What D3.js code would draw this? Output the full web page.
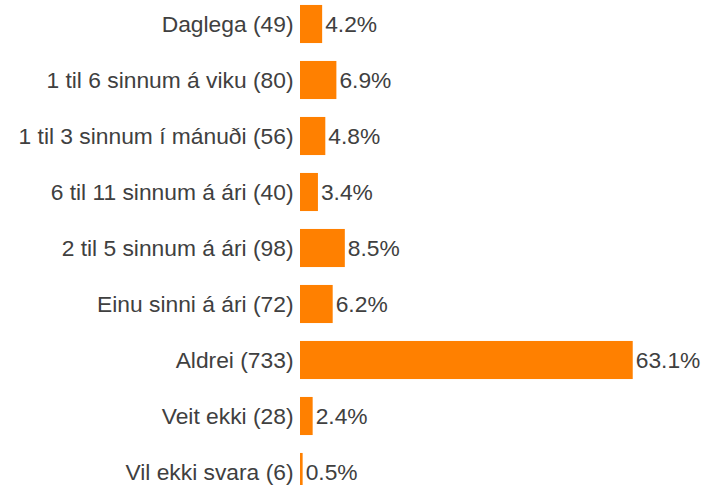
<!DOCTYPE html>
<html lang="is">
<head>
    <meta charset="UTF-8">
    <title>Chart</title>
    <script src="https://cdn.jsdelivr.net/npm/d3@7"></script>
    <style>
        body { margin: 0; background: #fff; }
        text { font-family: "Liberation Sans", Arial, sans-serif; fill: #404040; }
    </style>
</head>
<body>
<script>
    var width = 702;
    var height = 485;

    // svör og fjöldi
    var categories = ["Daglega", "1 til 6 sinnum á viku", "1 til 3 sinnum í mánuði",
        "6 til 11 sinnum á ári", "2 til 5 sinnum á ári", "Einu sinni á ári",
        "Aldrei", "Veit ekki", "Vil ekki svara"];
    var counts = [49, 80, 56, 40, 98, 72, 733, 28, 6];
    var percents = [4.2, 6.9, 4.8, 3.4, 8.5, 6.2, 63.1, 2.4, 0.5];

    var svg = d3.select("body").append("svg").attr("width", width).attr("height", height);

    var yScale = d3.scaleBand().domain(categories).range([-4, 500]).paddingInner(0.32).paddingOuter(0.16);
    var xScale = d3.scaleLinear().domain([0, 100]).range([300, 827.3]);

    var rows = svg.selectAll("g.row")
        .data(categories)
        .enter()
        .append("g")
        .attr("class", "row");

    rows.append("rect")
        .attr("x", xScale(0))
        .attr("y", function (d) { return yScale(d); })
        .attr("width", function (d, i) { return xScale(percents[i]) - xScale(0); })
        .attr("height", yScale.bandwidth())
        .attr("fill", "#ff8000");

    // merki vinstra megin
    rows.append("text")
        .attr("x", xScale(0) - 6.5)
        .attr("y", function (d) { return yScale(d) + yScale.bandwidth() / 2; })
        .attr("dy", "0.35em")
        .attr("text-anchor", "end")
        .style("font-size", "22.8px")
        .text(function (d, i) { return d + " (" + counts[i] + ")"; });

    // prósentur
    rows.append("text")
        .attr("x", function (d, i) { return xScale(percents[i]) + 3; })
        .attr("y", function (d) { return yScale(d) + yScale.bandwidth() / 2; })
        .attr("dy", "0.35em")
        .style("font-size", "22.8px")
        .text(function (d, i) { return percents[i].toFixed(1) + "%"; });
</script>
</body>
</html>
